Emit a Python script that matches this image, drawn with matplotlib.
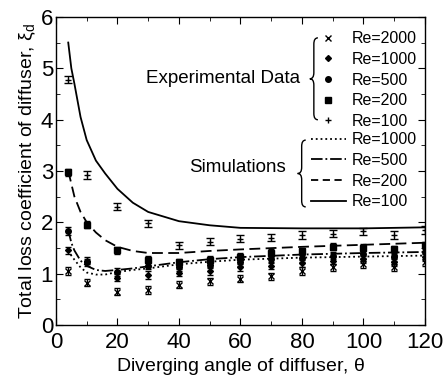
import matplotlib
matplotlib.use('Agg')
import matplotlib.pyplot as plt
import numpy as np
from matplotlib.path import Path
from matplotlib.patches import PathPatch
from matplotlib.lines import Line2D

plt.rcParams['font.family'] = ['Liberation Sans', 'DejaVu Sans']

# experimental data (diverging angle vs loss coefficient)
theta_exp = [4, 10, 20, 30, 40, 50, 60, 70, 80, 90, 100, 110, 120]
exp_re100 = [4.78, 2.92, 2.30, 1.98, 1.55, 1.62, 1.68, 1.70, 1.75, 1.78, 1.82, 1.75, 1.85]
exp_re200 = [2.97, 1.95, 1.45, 1.27, 1.22, 1.27, 1.33, 1.40, 1.43, 1.52, 1.50, 1.47, 1.55]
exp_re500 = [1.83, 1.22, 1.03, 1.15, 1.12, 1.17, 1.22, 1.28, 1.30, 1.35, 1.38, 1.32, 1.42]
exp_re1000 = [1.45, 1.25, 0.92, 0.97, 1.02, 1.05, 1.12, 1.15, 1.20, 1.25, 1.28, 1.22, 1.32]
exp_re2000 = [1.05, 0.82, 0.65, 0.68, 0.78, 0.85, 0.90, 0.95, 1.05, 1.12, 1.18, 1.12, 1.22]

# simulations
theta_sim = [4, 5, 6, 8, 10, 13, 16, 20, 25, 30, 40, 50, 60, 80, 100, 120]
sim_re100 = [5.5, 5.0, 4.7, 4.05, 3.6, 3.2, 2.95, 2.65, 2.38, 2.2, 2.02, 1.94, 1.89, 1.88, 1.88, 1.9]
sim_re200 = [3.0, 2.75, 2.5, 2.2, 2.0, 1.8, 1.65, 1.52, 1.44, 1.40, 1.40, 1.44, 1.47, 1.52, 1.56, 1.6]
sim_re500 = [1.85, 1.6, 1.45, 1.25, 1.15, 1.07, 1.05, 1.07, 1.10, 1.14, 1.22, 1.28, 1.32, 1.37, 1.40, 1.42]
sim_re1000 = [1.45, 1.35, 1.27, 1.12, 1.02, 0.98, 0.98, 1.03, 1.07, 1.10, 1.18, 1.23, 1.27, 1.31, 1.33, 1.35]

fig = plt.figure(figsize=(4.44, 3.84), dpi=100)
ax = fig.add_axes([0.126, 0.154, 0.831, 0.802])

k = 'black'
err = 0.07
ax.errorbar(theta_exp, exp_re2000, yerr=err, fmt='x', ms=4, mew=1.0, color=k, capsize=2, elinewidth=0.8)
ax.errorbar(theta_exp, exp_re1000, yerr=err, fmt='D', ms=3, color=k, capsize=2, elinewidth=0.8)
ax.errorbar(theta_exp, exp_re500, yerr=err, fmt='o', ms=4, color=k, capsize=2, elinewidth=0.8)
ax.errorbar(theta_exp, exp_re200, yerr=err, fmt='s', ms=4, color=k, capsize=2, elinewidth=0.8)
ax.errorbar(theta_exp, exp_re100, yerr=err, fmt='+', ms=5, mew=1.0, color=k, capsize=3, elinewidth=0.8)

ax.plot(theta_sim, sim_re1000, ':', color=k, lw=1.3)
ax.plot(theta_sim, sim_re500, '-.', color=k, lw=1.3)
ax.plot(theta_sim, sim_re200, '--', color=k, lw=1.3, dashes=(6, 3))
ax.plot(theta_sim, sim_re100, '-', color=k, lw=1.3)

ax.set_xlim(0, 120)
ax.set_ylim(0, 6)
ax.set_xticks(range(0, 121, 20))
ax.set_xticks(range(10, 121, 20), minor=True)
ax.set_yticks(range(0, 7))
ax.set_yticks(np.arange(0.5, 6, 1), minor=True)
ax.tick_params(which='both', direction='in', top=True, right=True, labelsize=16, pad=2)
ax.tick_params(axis='x', which='major', pad=5)
ax.tick_params(which='major', length=5)
ax.tick_params(which='minor', length=3)
for s in ax.spines.values():
    s.set_linewidth(1.0)
ax.set_xlabel(r'Diverging angle of diffuser, $\mathregular{\theta}$', fontsize=14, labelpad=2)
ax.set_ylabel(r'Total loss coefficient of diffuser, $\mathregular{\xi_d}$', fontsize=14, labelpad=2)

# legends
exp_handles = [
    Line2D([], [], ls='', marker='x', ms=4, mew=1.0, color=k),
    Line2D([], [], ls='', marker='D', ms=3, color=k),
    Line2D([], [], ls='', marker='o', ms=4, color=k),
    Line2D([], [], ls='', marker='s', ms=4, color=k),
    Line2D([], [], ls='', marker='+', ms=5, mew=1.0, color=k),
]
exp_labels = ['Re=2000', 'Re=1000', 'Re=500', 'Re=200', 'Re=100']
leg1 = ax.legend(exp_handles, exp_labels, loc='upper left', bbox_to_anchor=(0.715, 0.953),
                 frameon=False, fontsize=11.5, handlelength=1.0, handletextpad=1.0,
                 borderpad=0, borderaxespad=0, labelspacing=0.35)
ax.add_artist(leg1)
sim_handles = [
    Line2D([], [], ls=':', lw=1.3, color=k),
    Line2D([], [], ls='-.', lw=1.3, color=k),
    Line2D([], [], ls='--', lw=1.3, color=k, dashes=(4, 2.5)),
    Line2D([], [], ls='-', lw=1.3, color=k),
]
sim_labels = ['Re=1000', 'Re=500', 'Re=200', 'Re=100']
ax.legend(sim_handles, sim_labels, loc='upper left', bbox_to_anchor=(0.69, 0.625),
          frameon=False, fontsize=11.5, handlelength=2.25, handletextpad=0.3,
          borderpad=0, borderaxespad=0, labelspacing=0.35)

ax.text(0.662, 0.80, 'Experimental Data', transform=ax.transAxes, fontsize=13.5,
        ha='right', va='center')
ax.text(0.623, 0.51, 'Simulations', transform=ax.transAxes, fontsize=13.5,
        ha='right', va='center')


def brace(x, y0, y1, w):
    ym = (y0 + y1) / 2
    d = 0.02
    xm = x + w / 2
    verts = [(x + w, y1), (xm, y1), (xm, y1 - d), (xm, ym + d), (xm, ym), (x, ym),
             (xm, ym), (xm, ym - d), (xm, y0 + d), (xm, y0), (x + w, y0)]
    codes = [Path.MOVETO, Path.CURVE3, Path.CURVE3, Path.LINETO, Path.CURVE3, Path.CURVE3,
             Path.CURVE3, Path.CURVE3, Path.LINETO, Path.CURVE3, Path.CURVE3]
    ax.add_patch(PathPatch(Path(verts, codes), fill=False, lw=1.0,
                           transform=ax.transAxes, clip_on=False))


brace(0.688, 0.666, 0.932, 0.022)
brace(0.655, 0.383, 0.60, 0.022)

fig.savefig('out.png', dpi=100)
